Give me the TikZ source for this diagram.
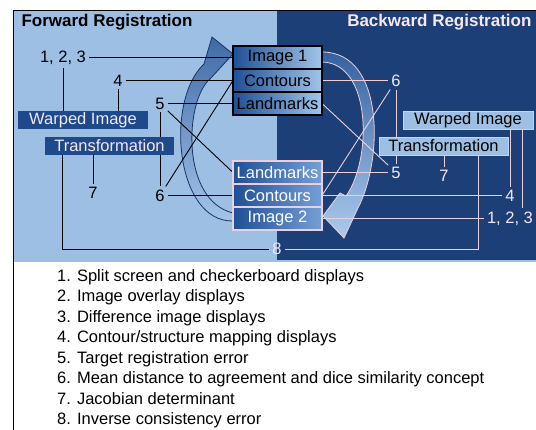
\documentclass[tikz,border=0pt]{standalone}
\usepackage{fontspec}
\setmainfont{Liberation Sans}
\usetikzlibrary{positioning}
\pgfdeclarelayer{back}
\pgfdeclarelayer{wires}
\pgfsetlayers{back,wires,main}

\definecolor{lightbg}{HTML}{9EBFE4}
\definecolor{navybg}{HTML}{1D3F78}
\definecolor{darkbox}{HTML}{1E4A8C}
\definecolor{pinkwhite}{HTML}{F6E6EE}
\definecolor{pinkline}{HTML}{EBCFDB}
\definecolor{deepblue}{HTML}{1F4F96}
\definecolor{paleblue}{HTML}{A3C5EA}
\definecolor{midblue}{HTML}{759FD6}
\definecolor{arrowedge}{HTML}{1A3363}

\tikzset{
    every node/.style={font=\fontsize{16.5}{20}\selectfont}, % same text size everywhere
    fwdbox/.style={draw=black, line width=1.2pt, left color=deepblue, right color=paleblue,
        text=black, minimum width=89pt, minimum height=23pt, inner sep=0pt, outer sep=0pt},
    bwdbox/.style={draw=pinkline, line width=1.2pt, left color=deepblue, right color=midblue,
        text=white, minimum width=89pt, minimum height=23pt, inner sep=0pt, outer sep=0pt},
    darkfill/.style={fill=darkbox, text=pinkwhite, minimum height=18pt, inner sep=0pt},
    lightfill/.style={fill=lightbg, draw=paleblue!70!white, text=black, minimum height=18pt, inner sep=0pt},
    numL/.style={text=black, inner sep=3pt},
    numR/.style={text=pinkwhite, inner sep=3pt},
    blkline/.style={draw=black, line width=0.9pt},
    pnkline/.style={draw=pinkline, line width=0.9pt},
    title/.style={font=\fontsize{17}{20}\selectfont\bfseries},
}

\begin{document}
\begin{tikzpicture}[x=1pt, y=-1pt]
    \useasboundingbox (0,0) rectangle (536,430);

    % Titles
    \node[title, anchor=west] (fwdT) at (18,22) {Forward Registration};
    \node[title, anchor=east, text=pinkwhite] (bwdT) at (535,22) {Backward Registration};

    % Image boxes
    \node[fwdbox] (imgA) at (277.5,57.5) {Image 1};
    \node[fwdbox, below=0pt of imgA] (cntA) {Contours};
    \node[fwdbox, below=0pt of cntA] (lmkA) {Landmarks};
    \node[bwdbox] (lmkB) at (277.5,172.5) {Landmarks};
    \node[bwdbox, below=0pt of lmkB] (cntB) {Contours};
    \node[bwdbox, below=0pt of cntB] (imgB) {Image 2};

    % Warped image / transformation
    \node[darkfill, minimum width=130pt] (wiL) at (83,120) {Warped Image};
    \node[darkfill, minimum width=129pt] (trL) at (109.5,146) {Transformation};
    \node[lightfill, minimum width=130pt] (wiR) at (468,120) {Warped Image};
    \node[lightfill, minimum width=129pt] (trR) at (443.5,146) {Transformation};

    % Numbers
    \node[numL] (n123L) at (63,57.5) {1, 2, 3};
    \node[numL] (n4L) at (118,80.5) {4};
    \node[numL] (n5L) at (160,103.5) {5};
    \node[numL] (n6L) at (160,195.5) {6};
    \node[numL] (n7L) at (93,193) {7};
    \node[numR] (n6R) at (396,80.5) {6};
    \node[numR] (n5R) at (396,172.5) {5};
    \node[numR] (n7R) at (444,176) {7};
    \node[numR] (n4R) at (510,195.5) {4};
    \node[numR] (n123R) at (510,218.5) {1, 2, 3};
    \node[numR] (n8) at (277,249) {8};
    \coordinate (w3) at ([xshift=-11pt]wiR.south east);

    % Legend
    \node[anchor=north west, align=left, inner sep=0pt, font=\fontsize{16.5}{20.5}\selectfont] (legend) at (57,269)
        {1. Split screen and checkerboard displays\\
         2. Image overlay displays\\
         3. Difference image displays\\
         4. Contour/structure mapping displays\\
         5. Target registration error\\
         6. Mean distance to agreement and dice similarity concept\\
         7. Jacobian determinant\\
         8. Inverse consistency error};

    % Background and big arrows
    \begin{pgfonlayer}{back}
        \fill[lightbg] (13,11) rectangle (536,262);
        \fill[navybg] (277,11) rectangle (536,260.5);
        \draw[black, line width=1pt] (13,430) -- (13,11) -- (536,11);
        \draw[top color=deepblue!85!white, bottom color=paleblue, draw=arrowedge, line width=0.8pt]
            (233,221) .. controls (175,222) and (165,100) .. (204,64) -- (212,37) -- (233,54)
            -- (210,79) .. controls (185,100) and (180,200) .. (233,213) -- cycle;
        \draw[top color=deepblue!90!white, bottom color=paleblue!90!white, draw=pinkline, line width=0.8pt]
            (322,52) .. controls (385,52) and (383,160) .. (358,208) -- (344,238) -- (323,216)
            -- (340,193) -- (346,196) .. controls (372,160) and (372,63) .. (322,62) -- cycle;
    \end{pgfonlayer}

    % Forward connectors
    \begin{pgfonlayer}{wires}
        \draw[blkline] (n123L) -- (imgA.west);
        \draw[blkline] (n4L) -- (cntA.west);
        \draw[blkline] (n5L) -- (lmkA.west);
        \draw[blkline] (n5L) -- (lmkB.west);
        \draw[blkline] (n5L) -- (n6L);
        \draw[blkline] (n6L) -- (cntA.west);
        \draw[blkline] (n6L) -- (cntB.west);
        \draw[blkline] (n123L) -- (n123L |- wiL.north);
        \draw[blkline] (n4L) -- (n4L |- wiL.north);
        \draw[blkline] (trL.south -| n7L) -- (n7L);
        \draw[blkline] ([xshift=18pt]trL.south west) |- (n8);
        % Backward connectors
        \draw[pnkline] (cntA.east) -- (n6R);
        \draw[pnkline] (n6R) -- (cntB.east);
        \draw[pnkline] (n6R) -- (n5R);
        \draw[pnkline] (lmkA.east) -- (n5R);
        \draw[pnkline] (lmkB.east) -- (n5R);
        \draw[pnkline] (trR.south -| n7R) -- (n7R);
        \draw[pnkline] (cntB.east) -- (n4R);
        \draw[pnkline] (imgB.east) -- (n123R);
        \draw[pnkline] (n4R |- wiR.south) -- (n4R);
        \draw[pnkline] (w3) -- (w3 |- n123R.north);
        \draw[pnkline] ([xshift=-30pt]trR.south east) |- (n8);
    \end{pgfonlayer}
\end{tikzpicture}
\end{document}
